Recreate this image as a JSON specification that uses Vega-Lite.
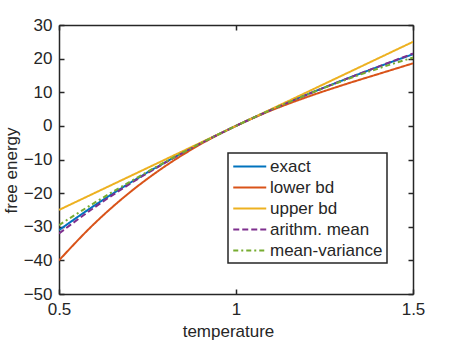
{
  "$schema": "https://vega.github.io/schema/vega-lite/v6.json",
  "width": 354,
  "height": 269,
  "autosize": "none",
  "padding": {"left": 59, "top": 25, "right": 44, "bottom": 49},
  "background": "white",
  "config": {
    "view": {"stroke": null},
    "font": "Liberation Sans",
    "axis": {
      "domainColor": "#262626",
      "domainWidth": 1.5,
      "tickColor": "#262626",
      "tickWidth": 1.5,
      "tickSize": -5,
      "labelColor": "#262626",
      "labelFont": "Liberation Sans",
      "labelFontSize": 17,
      "labelFlush": false,
      "labelOverlap": false,
      "titleColor": "#262626",
      "titleFont": "Liberation Sans",
      "titleFontSize": 17,
      "titleFontWeight": "normal",
      "grid": false
    }
  },
  "data": {
    "values": [
      {"T": 0.5, "F": -31.0, "s": "exact"},
      {"T": 0.6, "F": -23.69, "s": "exact"},
      {"T": 0.7, "F": -16.99, "s": "exact"},
      {"T": 0.8, "F": -10.85, "s": "exact"},
      {"T": 0.9, "F": -5.2, "s": "exact"},
      {"T": 1.0, "F": 0, "s": "exact"},
      {"T": 1.1, "F": 4.82, "s": "exact"},
      {"T": 1.2, "F": 9.3, "s": "exact"},
      {"T": 1.3, "F": 13.5, "s": "exact"},
      {"T": 1.4, "F": 17.49, "s": "exact"},
      {"T": 1.5, "F": 21.3, "s": "exact"},
      {"T": 0.5, "F": -40.0, "s": "lower bd"},
      {"T": 0.6, "F": -29.05, "s": "lower bd"},
      {"T": 0.7, "F": -19.78, "s": "lower bd"},
      {"T": 0.8, "F": -11.99, "s": "lower bd"},
      {"T": 0.9, "F": -5.46, "s": "lower bd"},
      {"T": 1.0, "F": 0, "s": "lower bd"},
      {"T": 1.1, "F": 4.61, "s": "lower bd"},
      {"T": 1.2, "F": 8.56, "s": "lower bd"},
      {"T": 1.3, "F": 12.08, "s": "lower bd"},
      {"T": 1.4, "F": 15.35, "s": "lower bd"},
      {"T": 1.5, "F": 18.6, "s": "lower bd"},
      {"T": 0.5, "F": -25, "s": "upper bd"},
      {"T": 1.0, "F": 0, "s": "upper bd"},
      {"T": 1.5, "F": 25, "s": "upper bd"},
      {"T": 0.5, "F": -32.0, "s": "arithm. mean"},
      {"T": 0.6, "F": -24.26, "s": "arithm. mean"},
      {"T": 0.7, "F": -17.27, "s": "arithm. mean"},
      {"T": 0.8, "F": -10.95, "s": "arithm. mean"},
      {"T": 0.9, "F": -5.22, "s": "arithm. mean"},
      {"T": 1.0, "F": 0, "s": "arithm. mean"},
      {"T": 1.1, "F": 4.8, "s": "arithm. mean"},
      {"T": 1.2, "F": 9.27, "s": "arithm. mean"},
      {"T": 1.3, "F": 13.49, "s": "arithm. mean"},
      {"T": 1.4, "F": 17.54, "s": "arithm. mean"},
      {"T": 1.5, "F": 21.5, "s": "arithm. mean"},
      {"T": 0.5, "F": -29.5, "s": "mean-variance"},
      {"T": 0.6, "F": -22.89, "s": "mean-variance"},
      {"T": 0.7, "F": -16.63, "s": "mean-variance"},
      {"T": 0.8, "F": -10.73, "s": "mean-variance"},
      {"T": 0.9, "F": -5.18, "s": "mean-variance"},
      {"T": 1.0, "F": 0, "s": "mean-variance"},
      {"T": 1.1, "F": 4.82, "s": "mean-variance"},
      {"T": 1.2, "F": 9.26, "s": "mean-variance"},
      {"T": 1.3, "F": 13.32, "s": "mean-variance"},
      {"T": 1.4, "F": 17.01, "s": "mean-variance"},
      {"T": 1.5, "F": 20.3, "s": "mean-variance"}
    ]
  },
  "layer": [
    {
      "mark": {"type": "line", "strokeWidth": 2, "interpolate": "monotone", "clip": true},
      "encoding": {
        "x": {
          "field": "T", "type": "quantitative",
          "scale": {"domain": [0.5, 1.5], "nice": false, "zero": false},
          "axis": {"orient": "bottom", "values": [0.5, 1, 1.5], "format": "~g", "title": "temperature", "labelPadding": 12, "titlePadding": 6, "titleX": 169}
        },
        "y": {
          "field": "F", "type": "quantitative",
          "scale": {"domain": [-50, 30], "nice": false, "zero": false},
          "axis": {"orient": "left", "values": [-50, -40, -30, -20, -10, 0, 10, 20, 30], "title": "free energy", "labelPadding": 12, "titlePadding": 3, "titleY": 145}
        },
        "color": {
          "field": "s", "type": "nominal",
          "scale": {
            "domain": ["exact", "lower bd", "upper bd", "arithm. mean", "mean-variance"],
            "range": ["#0072BD", "#D95319", "#EDB120", "#7E2F8E", "#77AC30"]
          },
          "legend": {
            "title": null,
            "orient": "none",
            "legendX": 169,
            "legendY": 128,
            "symbolType": "M-1,0H3",
            "symbolSize": 272,
            "symbolStrokeWidth": 2,
            "labelFont": "Liberation Sans",
            "labelFontSize": 17,
            "labelColor": "#262626",
            "labelOffset": 19,
            "rowPadding": 3,
            "padding": 4,
            "strokeColor": "#262626",
            "fillColor": "white",
            "encode": {"legend": {"update": {"strokeWidth": {"value": 1.5}}}}
          }
        },
        "strokeDash": {
          "field": "s", "type": "nominal",
          "scale": {
            "domain": ["exact", "lower bd", "upper bd", "arithm. mean", "mean-variance"],
            "range": [[1, 0], [1, 0], [1, 0], [6, 3], [5, 3, 2, 3]]
          }
        },
        "order": {"field": "T", "type": "quantitative"}
      }
    },
    {
      "mark": {"type": "point", "opacity": 0},
      "encoding": {
        "x": {"field": "T", "type": "quantitative", "axis": {"orient": "top", "values": [0.5, 1, 1.5], "labels": false, "title": null}},
        "y": {"field": "F", "type": "quantitative", "axis": {"orient": "right", "values": [-50, -40, -30, -20, -10, 0, 10, 20, 30], "labels": false, "title": null}}
      }
    }
  ],
  "resolve": {"axis": {"x": "independent", "y": "independent"}}
}
